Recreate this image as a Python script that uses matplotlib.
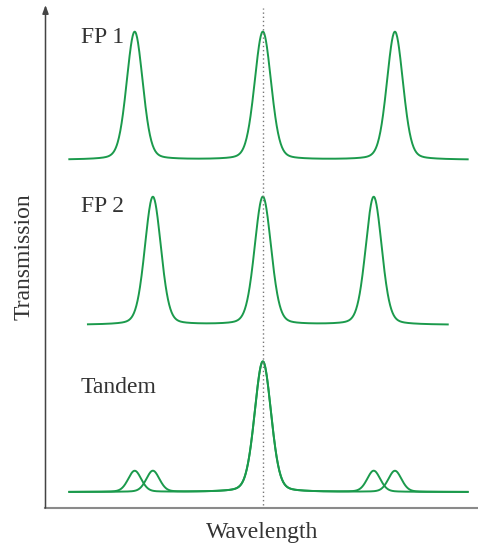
import numpy as np
import matplotlib
matplotlib.use("Agg")
import matplotlib.pyplot as plt

plt.rcParams['font.family'] = ['Liberation Serif', 'DejaVu Serif']

# peak positions (wavelength, arbitrary units, design wavelength at 0)
fp1_centers = [-2.96, 0.0, 3.05]
fp2_centers = [-2.54, 0.0, 2.56]
fp1_heights = [1.0, 1.0, 1.0]
fp2_heights = [1.0, 1.0, 1.0]
# tandem: product of both filters -> only the shared peak survives
tandem_a_centers = [-2.96, 0.0, 3.05]
tandem_b_centers = [-2.54, 0.0, 2.56]
tandem_heights = [0.165, 1.02, 0.165]
peak_fwhm = [0.44, 0.45, 0.44]
side_fwhm = [0.36, 0.45, 0.36]

labels = ["FP 1", "FP 2", "Tandem"]

GREEN = "#1b9a4c"
TEXT = "#333333"


def profile(x, centers, heights, fwhms, eta=0.2):
    # pseudo-voigt line shape for each transmission peak
    y = np.zeros_like(x)
    for c, h, w in zip(centers, heights, fwhms):
        s = w / 2.3548
        g = np.exp(-0.5 * ((x - c) / s) ** 2)
        l = 1.0 / (1.0 + ((x - c) / (w / 2)) ** 2)
        y += h * (eta * l + (1 - eta) * g)
    return y


fig = plt.figure(figsize=(4.78, 5.46), dpi=100)
ax = fig.add_axes([45.5 / 478, 38 / 546, 433 / 478, 503 / 546])
ax.set_xlim(-5.02, 4.98)
ax.set_ylim(0, 503 / 128)

# vertical offsets of the three traces
off_fp1, off_fp2, off_tan = 2.72, 1.43, 0.125

x1 = np.linspace(-4.47, 4.73, 900)
ax.plot(x1, off_fp1 + profile(x1, fp1_centers, fp1_heights, peak_fwhm), c=GREEN, lw=1.4)

x2 = np.linspace(-4.04, 4.27, 900)
ax.plot(x2, off_fp2 + profile(x2, fp2_centers, fp2_heights, peak_fwhm), c=GREEN, lw=1.4)

x3 = np.linspace(-4.47, 4.73, 900)
ax.plot(x3, off_tan + profile(x3, tandem_a_centers, tandem_heights, side_fwhm), c=GREEN, lw=1.4)
ax.plot(x3, off_tan + profile(x3, tandem_b_centers, tandem_heights, side_fwhm), c=GREEN, lw=1.4)

ax.plot([0, 0], [0.02, 3.91], ls=(0, (1, 2)), c="#777777", lw=1.0)

for lab, yy in zip(labels, [off_fp1 + 0.91, off_fp2 + 0.88, off_tan + 0.77]):
    ax.text(-4.2, yy, lab, fontsize=17, color=TEXT, va="baseline", ha="left")

for s in ["top", "right", "left"]:
    ax.spines[s].set_visible(False)
ax.spines["bottom"].set_color("#8a8a8a")
ax.spines["bottom"].set_linewidth(1.5)
ax.set_xticks([])
ax.set_yticks([])

ax.annotate("", xy=(0, 1.0), xytext=(0, 0), xycoords="axes fraction",
            arrowprops=dict(arrowstyle="-|>,head_length=0.5,head_width=0.18",
                            color="#444444", lw=1.1, shrinkA=0, shrinkB=0))

ax.set_xlabel("Wavelength", fontsize=17, color=TEXT, labelpad=10)
ax.set_ylabel("Transmission", fontsize=17, color=TEXT, labelpad=8)

fig.savefig("out.png", dpi=100)
